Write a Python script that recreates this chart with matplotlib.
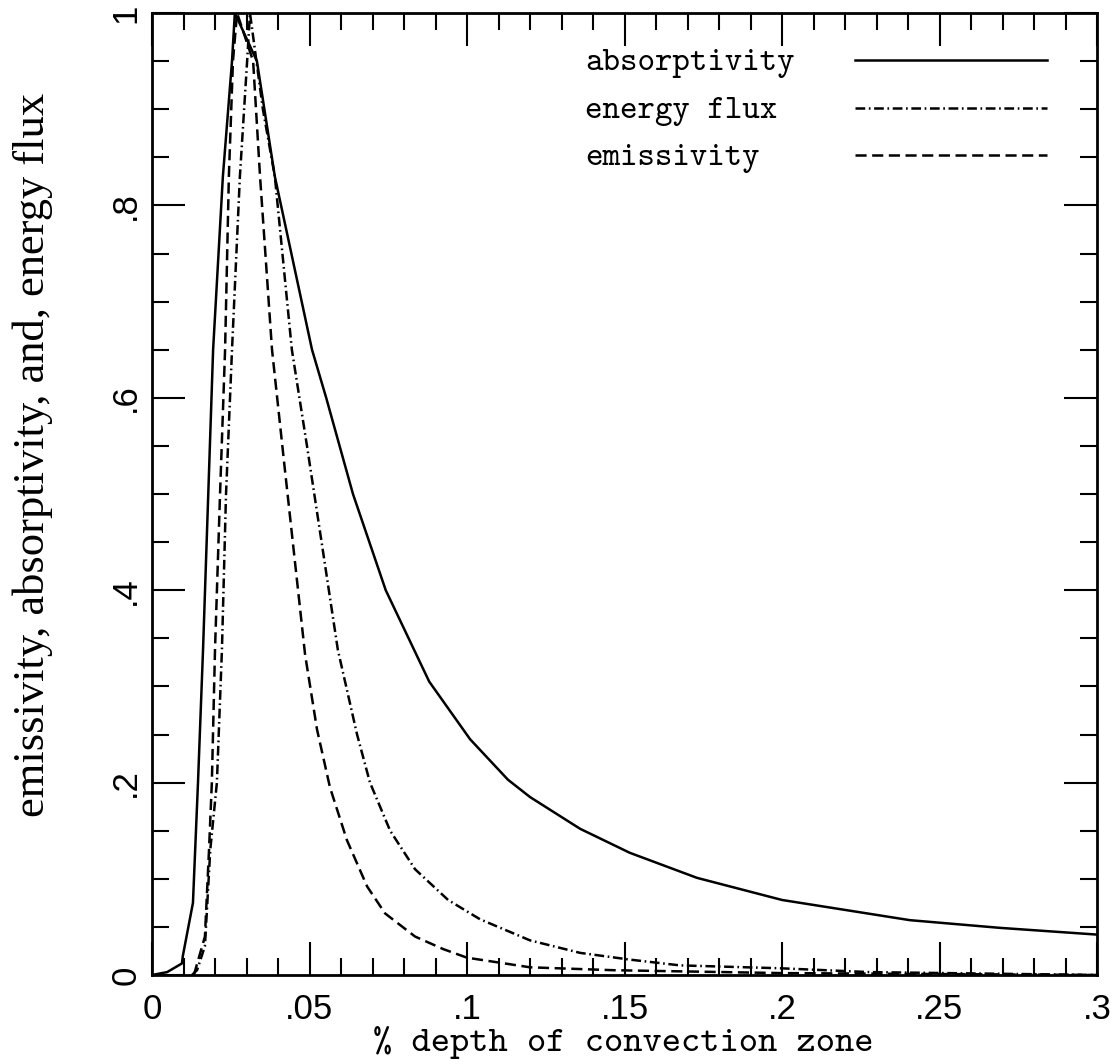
import matplotlib
matplotlib.use("Agg")
import matplotlib.pyplot as plt
from matplotlib.ticker import MultipleLocator, FixedLocator, FixedFormatter

# values (x = % depth of convection zone)
absorb_x = [0.0, 0.0048, 0.0095, 0.0098, 0.0130, 0.0146, 0.0162, 0.0194, 0.0225,
            0.0254, 0.0263, 0.0333, 0.0390, 0.0508, 0.0553, 0.0638, 0.0742, 0.0880,
            0.1010, 0.1130, 0.1200, 0.1359, 0.1517, 0.1730, 0.2000, 0.2406, 0.2692,
            0.3000]
absorb_y = [0.0, 0.003, 0.012, 0.020, 0.075, 0.20, 0.338, 0.65, 0.83,
            0.95, 1.0, 0.95, 0.83, 0.65, 0.60, 0.50, 0.40, 0.305,
            0.245, 0.203, 0.185, 0.152, 0.127, 0.101, 0.078, 0.057, 0.049,
            0.042]

flux_x = [0.0127, 0.0143, 0.0168, 0.0185, 0.0206, 0.0222, 0.0235, 0.0254, 0.0279,
          0.0302, 0.0311, 0.0352, 0.0390, 0.0444, 0.0492, 0.0543, 0.0590, 0.0651,
          0.0692, 0.0756, 0.0835, 0.0940, 0.1041, 0.1200, 0.1359, 0.1517, 0.1676,
          0.1994, 0.2279, 0.3000]
flux_y = [0.0, 0.005, 0.03, 0.13, 0.2, 0.338, 0.5, 0.65, 0.83,
          0.95, 1.0, 0.9, 0.83, 0.65, 0.55, 0.44, 0.338, 0.25,
          0.2, 0.15, 0.11, 0.078, 0.058, 0.036, 0.023, 0.016, 0.010,
          0.007, 0.003, 0.0]

emiss_x = [0.0133, 0.0168, 0.0181, 0.0190, 0.0200, 0.0216, 0.0232, 0.0244, 0.0257,
           0.0270, 0.0321, 0.0343, 0.0381, 0.0419, 0.0457, 0.0486, 0.0524, 0.0565,
           0.0619, 0.0683, 0.0740, 0.0835, 0.0924, 0.1000, 0.1200, 0.1463, 0.1994,
           0.3000]
emiss_y = [0.0, 0.04, 0.13, 0.2, 0.338, 0.5, 0.65, 0.83, 0.95,
           1.0, 0.95, 0.83, 0.65, 0.534, 0.42, 0.333, 0.255, 0.195,
           0.14, 0.092, 0.064, 0.040, 0.027, 0.018, 0.008, 0.005, 0.002,
           0.0]

x_ticks = [0, 0.05, 0.1, 0.15, 0.2, 0.25, 0.3]
x_ticklabels = ["0", ".05", ".1", ".15", ".2", ".25", ".3"]
y_ticks = [0, 0.2, 0.4, 0.6, 0.8, 1.0]
y_ticklabels = ["0", ".2", ".4", ".6", ".8", "1"]

labels = ["absorptivity", "energy flux", "emissivity"]

plt.rcParams["lines.scale_dashes"] = False
TICK_FONT = "Liberation Sans"
TT_FONT = ["cmtt10", "DejaVu Sans Mono"]

DASH = (0, (8, 4))
DASHDOT = (0, (7, 2.6, 1.2, 2.6))
LW = 1.8

fig = plt.figure(figsize=(11.18, 10.64), dpi=100)
ax = fig.add_axes([152 / 1118, 1 - 975 / 1064, 945 / 1118, 962 / 1064])

ax.plot(absorb_x, absorb_y, color="black", lw=LW, ls="-")
ax.plot(flux_x, flux_y, color="black", lw=LW, ls=DASHDOT)
ax.plot(emiss_x, emiss_y, color="black", lw=LW, ls=DASH)

ax.set_xlim(0, 0.3)
ax.set_ylim(0, 1)
ax.xaxis.set_major_locator(FixedLocator(x_ticks))
ax.xaxis.set_major_formatter(FixedFormatter(x_ticklabels))
ax.yaxis.set_major_locator(FixedLocator(y_ticks))
ax.yaxis.set_major_formatter(FixedFormatter(y_ticklabels))
ax.xaxis.set_minor_locator(MultipleLocator(0.01))
ax.yaxis.set_minor_locator(MultipleLocator(0.05))
ax.tick_params(which="both", direction="in", top=True, right=True, width=1.5,
               color="black")
ax.tick_params(which="major", length=24)
ax.tick_params(which="minor", length=12)
ax.tick_params(axis="x", which="major", pad=13, labelsize=25)
ax.tick_params(axis="y", which="major", pad=7, labelsize=25, labelrotation=90)
for lab in ax.get_xticklabels() + ax.get_yticklabels():
    lab.set_family(TICK_FONT)
for lab in ax.get_yticklabels():
    lab.set_va("center")
for sp in ax.spines.values():
    sp.set_linewidth(2.0)

# legend: text on the left, line sample on the right (axes fractions)
styles = ["-", DASHDOT, DASH]
row_y = [0.951, 0.901, 0.852]
for lab, st, yy in zip(labels, styles, row_y):
    ax.text(0.4582, yy - 0.0105, lab, transform=ax.transAxes, family=TT_FONT,
            fontsize=24, ha="left", va="baseline")
    ax.plot([0.744, 0.947], [yy, yy], transform=ax.transAxes, color="black",
            lw=LW, ls=st, clip_on=False)

fig.text(623 / 1118, 1 - 1051 / 1064, "% depth of convection zone", family=TT_FONT,
         fontsize=26.4, ha="center", va="baseline")
fig.text(33 / 1118, 1 - 455 / 1064, "emissivity, absorptivity, and, energy flux",
         family="Liberation Serif", fontsize=32, rotation=90, ha="center", va="center")

fig.savefig("out.png", dpi=100, facecolor="white")
